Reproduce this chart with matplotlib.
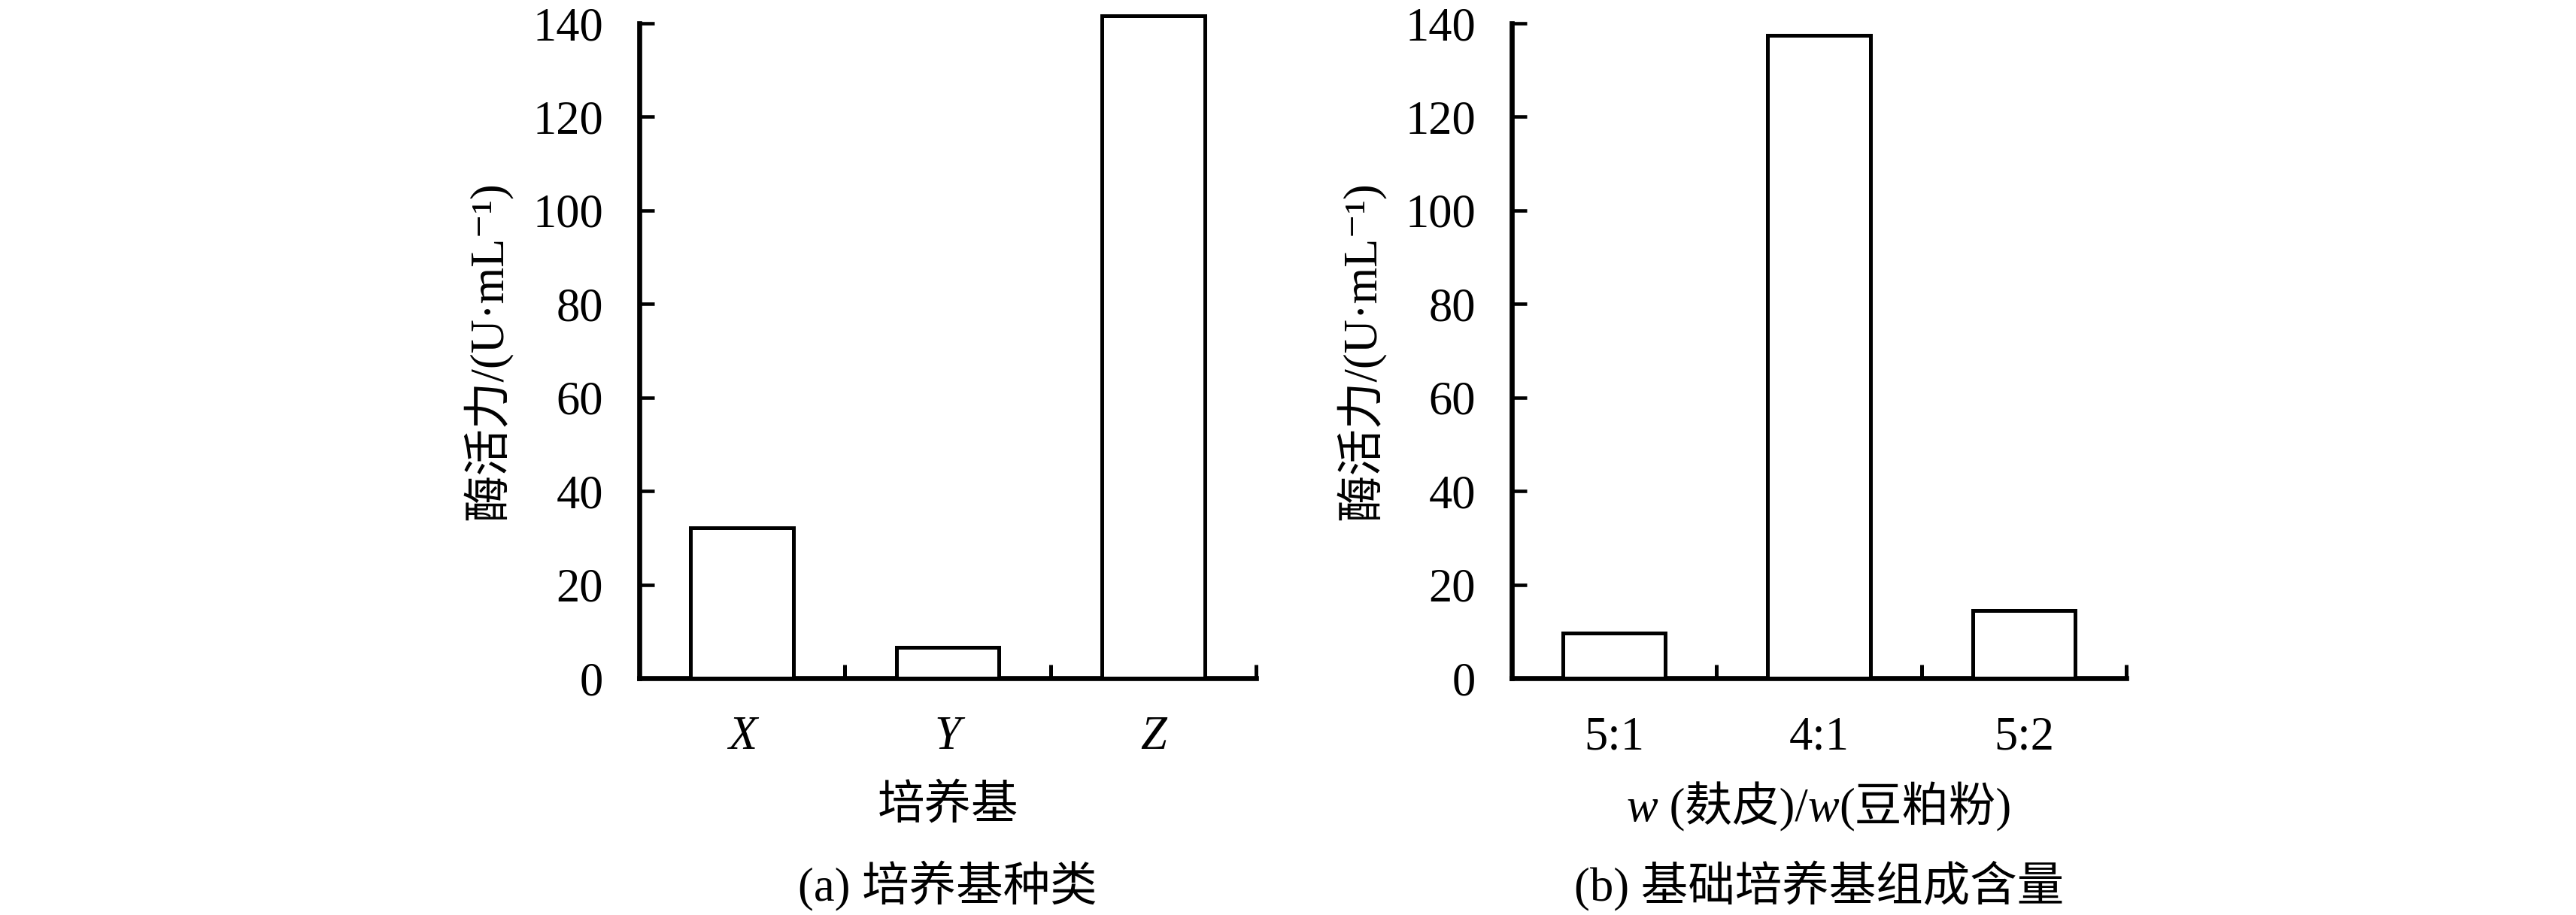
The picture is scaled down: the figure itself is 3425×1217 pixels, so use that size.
import numpy as np
import matplotlib
matplotlib.use("Agg")
import matplotlib.pyplot as plt
from matplotlib.offsetbox import TextArea, HPacker, AnchoredOffsetbox

FONTS = ['Liberation Serif', 'DejaVu Serif', 'Noto Sans CJK SC']
plt.rcParams['font.family'] = FONTS
plt.rcParams['font.size'] = 15

# data
media = ['X', 'Y', 'Z']
media_activity = [32.1, 6.6, 141.6]
ratios = ['5:1', '4:1', '5:2']
ratio_activity = [9.7, 137.5, 14.5]
yticks = [0, 20, 40, 60, 80, 100, 120, 140]

ylabel = '酶活力/(U·mL⁻¹)'
xlabel_a = [('培养基', False)]
xlabel_b = [('w', True), (' (麸皮)/', False), ('w', True), ('(豆粕粉)', False)]
caption_a = [('(a) 培养基种类', False)]
caption_b = [('(b) 基础培养基组成含量', False)]


def packed_text(fig, parts, x, y):
    areas = [TextArea(s, textprops=dict(fontstyle='italic' if it else 'normal',
                                        fontsize=15, family=FONTS))
             for s, it in parts]
    box = HPacker(children=areas, align='baseline', pad=0, sep=0)
    fig.add_artist(AnchoredOffsetbox(loc='center', child=box, frameon=False,
                                     pad=0, borderpad=0, bbox_to_anchor=(x, y),
                                     bbox_transform=fig.transFigure))


def draw_panel(ax, cats, vals, italic):
    x = np.arange(len(cats))
    ax.bar(x, vals, width=0.5, color='white', edgecolor='black',
           linewidth=1.2, clip_on=False, zorder=3)
    ax.set_xlim(-0.5, len(cats) - 0.5)
    ax.set_ylim(0, 140)
    ax.set_yticks(yticks)
    ax.set_xticks(x + 0.5)
    ax.set_xticklabels([])
    ax.set_xticks(x, minor=True)
    ax.set_xticklabels(cats, minor=True, fontstyle='italic' if italic else 'normal')
    ax.tick_params(axis='x', which='major', direction='in', length=4.3, width=1.2)
    ax.tick_params(axis='x', which='minor', length=0, pad=12)
    ax.tick_params(axis='y', direction='in', length=4.8, width=1.1, pad=11.5)
    for s in ['top', 'right']:
        ax.spines[s].set_visible(False)
    for s in ['left', 'bottom']:
        ax.spines[s].set_linewidth(1.6)
    ax.set_ylabel(ylabel)
    ax.yaxis.set_label_coords(-0.205, 0.5)


fig = plt.figure(figsize=(3425 / 300, 1217 / 300), dpi=300)
ax1 = fig.add_axes([0.2482, 0.2588, 0.2394, 0.7157])
ax2 = fig.add_axes([0.5869, 0.2588, 0.2385, 0.7157])

draw_panel(ax1, media, media_activity, True)
draw_panel(ax2, ratios, ratio_activity, False)

for ax, xl, cap in [(ax1, xlabel_a, caption_a), (ax2, xlabel_b, caption_b)]:
    pos = ax.get_position()
    cx = pos.x0 + pos.width / 2
    packed_text(fig, xl, cx, 0.1183)
    packed_text(fig, cap, cx, 0.032)

fig.savefig('out.png', dpi=300)
